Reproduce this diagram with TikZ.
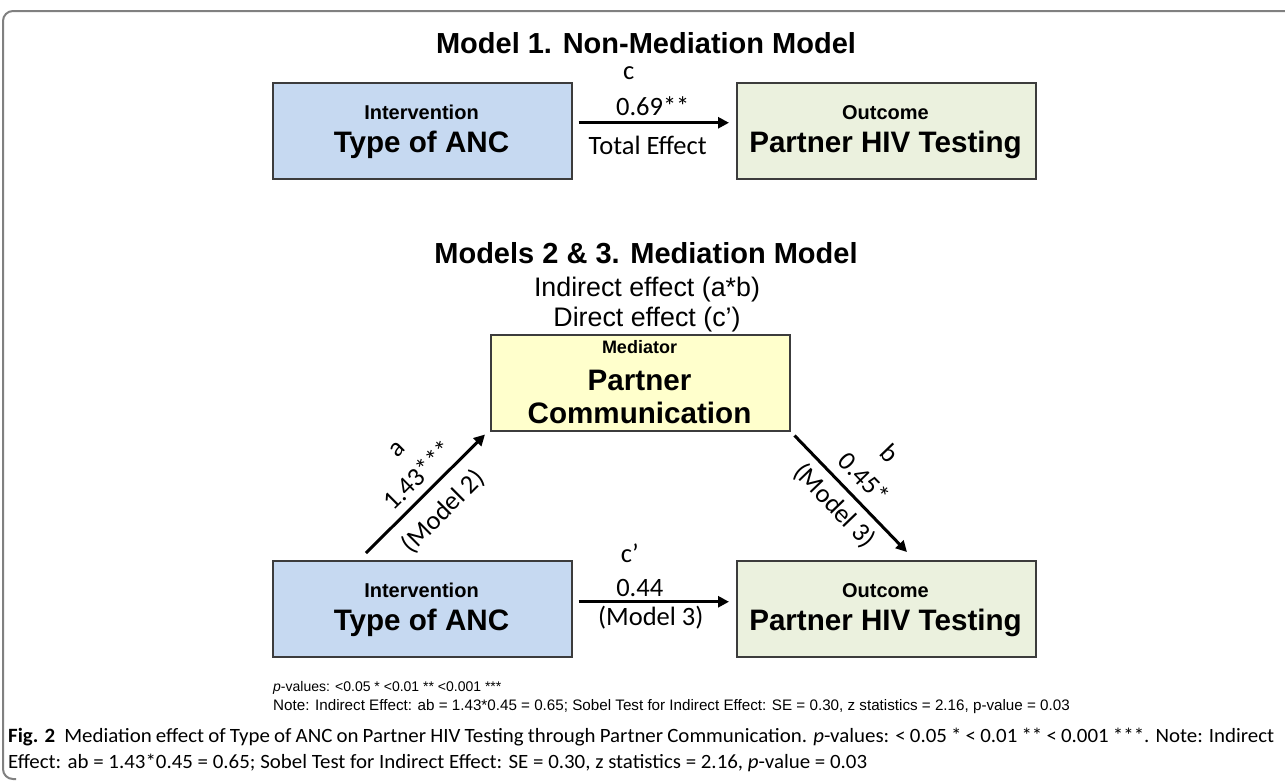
\documentclass[tikz,border=0pt]{standalone}
\usepackage{fontspec}
\setmainfont{Liberation Sans}
\newfontfamily\lblfont{Carlito}
\newfontfamily\capfont{Carlito}[FakeStretch=1.03]
\usetikzlibrary{arrows.meta}
\definecolor{ivblue}{HTML}{C6D9F1}
\definecolor{ocgreen}{HTML}{EBF1DE}
\definecolor{mdyellow}{HTML}{FFFFCC}
\definecolor{boxline}{HTML}{3C3C3C}
\definecolor{framegray}{HTML}{808080}
\begin{document}
\begin{tikzpicture}[x=1pt,y=-1pt,
  varbox/.style={draw=boxline, line width=1.5pt, minimum width=299pt, minimum height=96pt, inner sep=0pt, anchor=north west},
  smalltxt/.style={font=\fontsize{20}{22}\selectfont\bfseries, anchor=base, inner sep=0pt},
  bigtxt/.style={font=\fontsize{29.6}{32}\selectfont\bfseries, anchor=base, inner sep=0pt},
  medtxt/.style={font=\fontsize{18}{20}\selectfont\bfseries, anchor=base, inner sep=0pt},
  titletxt/.style={font=\fontsize{29}{32}\selectfont\bfseries, anchor=base, inner sep=0pt},
  lbl/.style={font=\lblfont\fontsize{26.5}{30}\selectfont, inner sep=0pt},
  efftxt/.style={font=\fontsize{26.8}{30}\selectfont, anchor=base, inner sep=0pt},
  notetxt/.style={font=\fontsize{15.2}{17}\selectfont, anchor=base west, inner sep=0pt},
  captxt/.style={font=\capfont\fontsize{20.3}{25}\selectfont, anchor=base west, inner sep=0pt},
  shadow/.style={fill=black!45},
  arr/.style={line width=3pt, -{Triangle[length=11pt,width=11pt]}},
]
\useasboundingbox (0,0) rectangle (1285,780);
\fill[white] (0,0) rectangle (1285,780);
% frame
\draw[framegray, line width=2pt, rounded corners=10pt] (1285,11) -- (3,11) -- (3,779) -- (16,779);

% ---------- Model 1 ----------
\node[titletxt] (t1) at (646,53) {Model 1. Non-Mediation Model};
\fill[shadow] (274,84) rectangle (573,180);
\fill[shadow] (738,84) rectangle (1037,180);
\node[varbox, fill=ivblue] (i1) at (272,82) {};
\node[varbox, fill=ocgreen] (o1) at (736,82) {};
\node[smalltxt] (i1a) at (421.5,119) {Intervention};
\node[bigtxt] (i1b) at (421.5,152) {Type of ANC};
\node[smalltxt] (o1a) at (885.5,119) {Outcome};
\node[bigtxt] (o1b) at (885.5,152) {Partner HIV Testing};
\draw[arr] ([xshift=6pt,yshift=8pt]i1.east) -- ([xshift=-7pt,yshift=8pt]o1.west)
  node[pos=0.5, lbl, anchor=base, xshift=-25pt, yshift=43pt] (e1c) {c}
  node[pos=0.5, lbl, anchor=base, xshift=-1pt, yshift=7pt] (e1v) {0.69**}
  node[pos=0.5, lbl, anchor=base, xshift=-6pt, yshift=-32pt] (e1t) {Total Effect};

% ---------- Models 2 & 3 ----------
\node[titletxt] (t2) at (646,263) {Models 2 \& 3. Mediation Model};
\node[efftxt] (ind) at (647,296) {Indirect effect (a*b)};
\node[efftxt] (dir) at (647,326) {Direct effect (c’)};
\fill[shadow] (492,336) rectangle (791,432);
\node[varbox, fill=mdyellow] (m) at (490,334) {};
\node[medtxt] (ma) at (639.5,353) {Mediator};
\node[bigtxt] (mb) at (639.5,390) {Partner};
\node[bigtxt] (mc) at (639.5,423) {Communication};
\fill[shadow] (274,562) rectangle (573,658);
\fill[shadow] (738,562) rectangle (1037,658);
\node[varbox, fill=ivblue] (i2) at (272,560) {};
\node[varbox, fill=ocgreen] (o2) at (736,560) {};
\node[smalltxt] (i2a) at (421.5,597) {Intervention};
\node[bigtxt] (i2b) at (421.5,630) {Type of ANC};
\node[smalltxt] (o2a) at (885.5,597) {Outcome};
\node[bigtxt] (o2b) at (885.5,630) {Partner HIV Testing};

\draw[arr] ([xshift=6pt,yshift=7pt]i2.east) -- ([xshift=-7pt,yshift=7pt]o2.west)
  node[pos=0.5, lbl, anchor=base, xshift=-24pt, yshift=39pt] (e2c) {c’}
  node[pos=0.5, lbl, anchor=base, xshift=-14pt, yshift=5pt] (e2v) {0.44}
  node[pos=0.5, lbl, anchor=base, xshift=-3pt, yshift=-24pt] (e2t) {(Model 3)};

\draw[arr] ([xshift=94pt,yshift=7pt]i2.north west) -- ([xshift=-5pt,yshift=-3pt]m.south west)
  node[pos=0.5, sloped, lbl, xshift=12pt, yshift=51pt] (ea0) {a}
  node[pos=0.5, sloped, lbl, xshift=8pt, yshift=19pt] (ea1) {1.43***}
  node[pos=0.5, sloped, lbl, xshift=0pt, yshift=-25pt] (ea2) {(Model 2)};

\draw[arr] ([xshift=4pt,yshift=-4pt]m.south east) -- ([xshift=171pt,yshift=8pt]o2.north west)
  node[pos=0.5, sloped, lbl, xshift=-2pt, yshift=56pt] (eb0) {b}
  node[pos=0.5, sloped, lbl, xshift=-2pt, yshift=21pt] (eb1) {0.45*}
  node[pos=0.5, sloped, lbl, xshift=-3pt, yshift=-20pt] (eb2) {(Model 3)};

% ---------- notes ----------
\node[notetxt, font=\fontsize{14}{17}\selectfont] (n1) at (273,691) {\textit{p}-values: <0.05 * <0.01 ** <0.001 ***};
\node[notetxt] (n2) at (273,710) {Note: Indirect Effect: ab = 1.43*0.45 = 0.65; Sobel Test for Indirect Effect: SE = 0.30, z statistics = 2.16, p-value = 0.03};

% ---------- caption ----------
\node[captxt] (c1) at (8,742) {\makebox[1266pt][s]{\textbf{Fig. 2}\hspace{5pt} Mediation effect of Type of ANC on Partner HIV Testing through Partner Communication. \textit{p}-values: < 0.05 * < 0.01 ** < 0.001 ***. Note: Indirect}};
\node[captxt] (c2) at (8,768) {Effect: ab = 1.43*0.45 = 0.65; Sobel Test for Indirect Effect: SE = 0.30, z statistics = 2.16, \textit{p}-value = 0.03};
\end{tikzpicture}
\end{document}
